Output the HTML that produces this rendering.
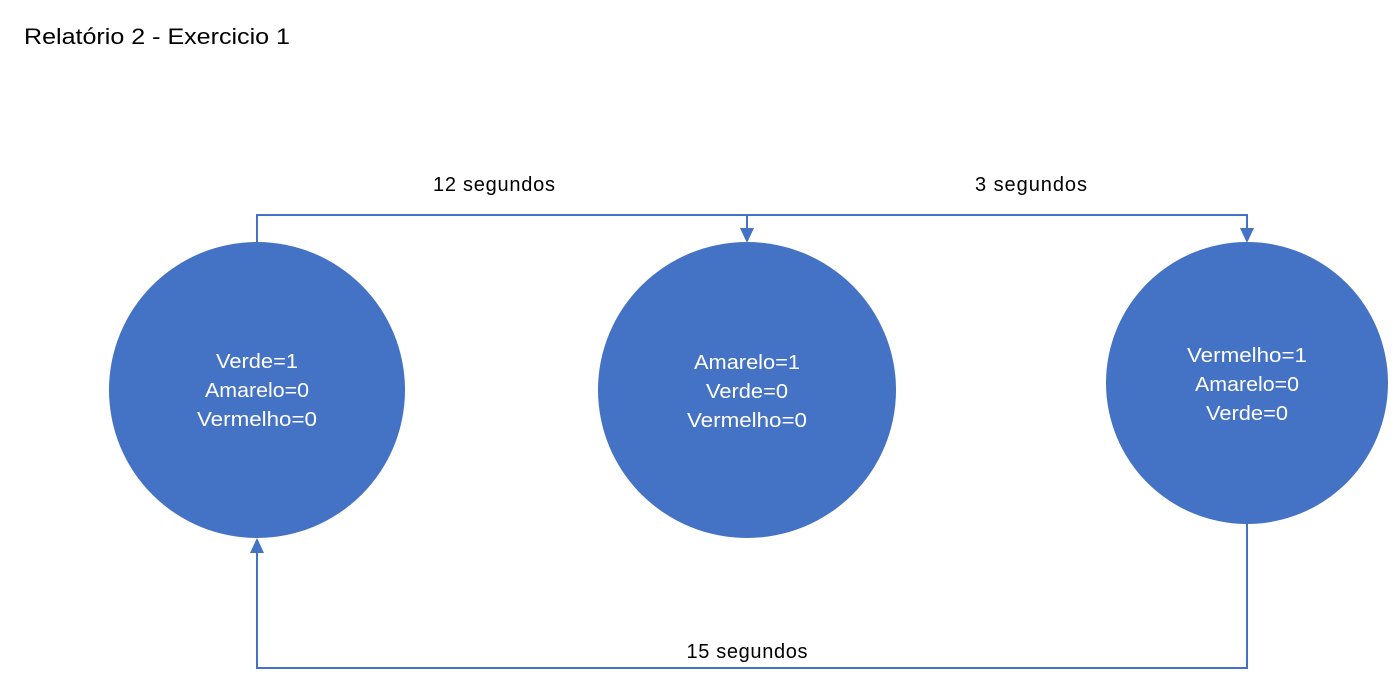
<!DOCTYPE html>
<html><head><style>
body{margin:0;background:#fff;width:1399px;height:687px;overflow:hidden;}
svg{display:block}
text{font-family:"Liberation Sans",sans-serif;}
</style></head><body>
<svg width="1399" height="687" viewBox="0 0 1399 687">
<text x="24" y="44" font-size="22" fill="#000" textLength="266" lengthAdjust="spacingAndGlyphs">Relatório 2 - Exercicio 1</text>
<g fill="#4472C4">
<ellipse cx="257" cy="390" rx="148" ry="148"/>
<ellipse cx="747" cy="390" rx="149" ry="148"/>
<ellipse cx="1247" cy="383" rx="141" ry="141"/>
</g>
<g stroke="#4472C4" stroke-width="2" fill="none">
<polyline points="257,242 257,215 1247,215 1247,230"/>
<line x1="747" y1="215" x2="747" y2="230"/>
<polyline points="1247,524 1247,668 257,668 257,552"/>
</g>
<g fill="#4472C4">
<polygon points="740,228 754,228 747,243"/>
<polygon points="1240,228 1254,228 1247,243"/>
<polygon points="250,553 264,553 257,538"/>
</g>
<g font-size="20" fill="#000" text-anchor="middle" lengthAdjust="spacingAndGlyphs">
<text x="494" y="191" textLength="122">12 segundos</text>
<text x="1031" y="191" textLength="112">3 segundos</text>
<text x="747" y="658" textLength="121">15 segundos</text>
</g>
<g font-size="20" fill="#fff" text-anchor="middle">
<text x="257" y="368" textLength="82" lengthAdjust="spacingAndGlyphs">Verde=1</text>
<text x="257" y="397" textLength="104" lengthAdjust="spacingAndGlyphs">Amarelo=0</text>
<text x="257" y="426" textLength="120" lengthAdjust="spacingAndGlyphs">Vermelho=0</text>
<text x="747" y="369" textLength="106" lengthAdjust="spacingAndGlyphs">Amarelo=1</text>
<text x="747" y="398" textLength="82" lengthAdjust="spacingAndGlyphs">Verde=0</text>
<text x="747" y="427" textLength="120" lengthAdjust="spacingAndGlyphs">Vermelho=0</text>
<text x="1247" y="362" textLength="120" lengthAdjust="spacingAndGlyphs">Vermelho=1</text>
<text x="1247" y="391" textLength="104" lengthAdjust="spacingAndGlyphs">Amarelo=0</text>
<text x="1247" y="420" textLength="82" lengthAdjust="spacingAndGlyphs">Verde=0</text>
</g>
</svg>
</body></html>
